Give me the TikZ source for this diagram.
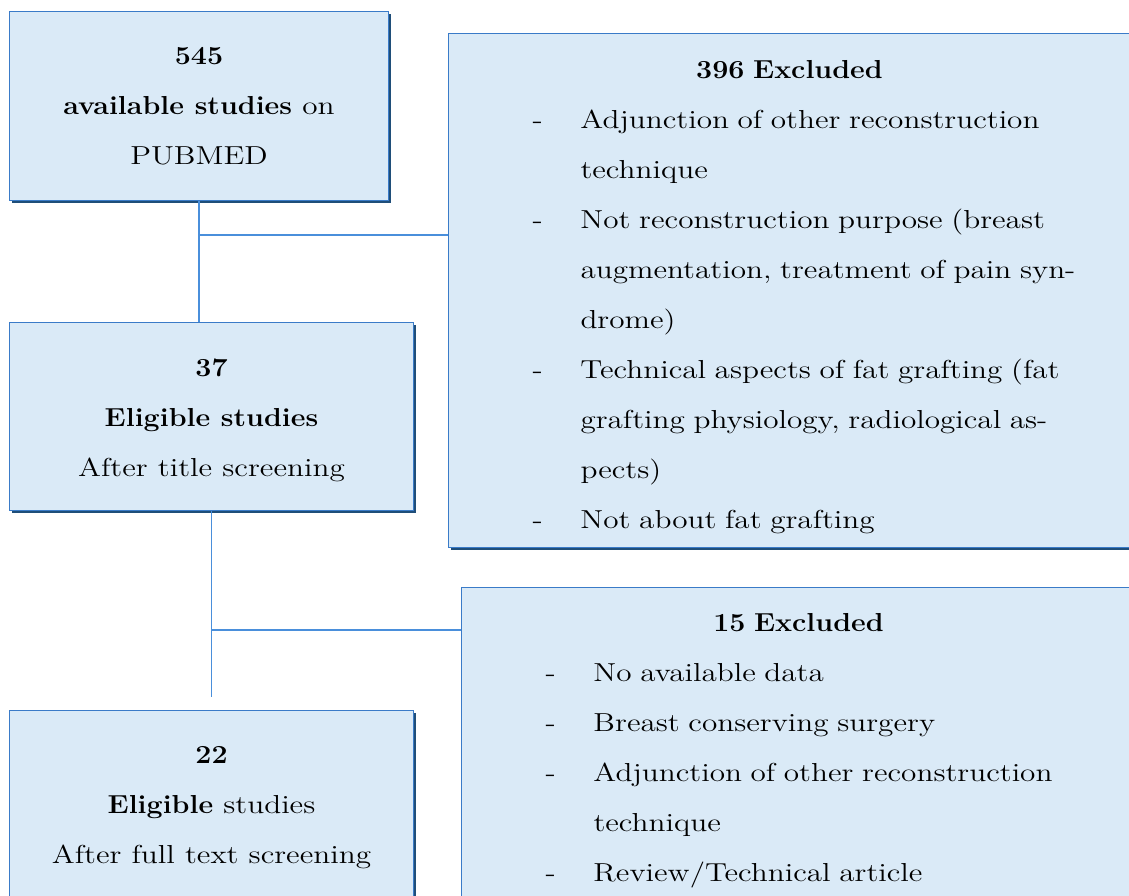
\documentclass[tikz,border=0pt]{standalone}
\usepackage{fontspec}
\setmainfont{Latin Modern Roman}[FakeStretch=1.2, BoldFeatures={FakeStretch=1.1}]
\usepackage{xcolor}
\usepackage{tikz}
\usetikzlibrary{positioning,shadows}

\definecolor{boxfill}{HTML}{DAEAF7}
\definecolor{boxline}{HTML}{3A7BC8}
\definecolor{boxdark}{HTML}{1F4E79}
\definecolor{linkblue}{HTML}{4A8FDB}

\newcommand{\exitem}[1]{\noindent\hspace*{42pt}\makebox[24pt][l]{-}#1\par}
\newcommand{\excont}[1]{\noindent\hspace*{66pt}#1\par}

\begin{document}
\begin{tikzpicture}[
  font=\fontsize{13}{25}\selectfont,
  box/.style={draw=boxline, line width=0.5pt, fill=boxfill, inner sep=0pt,
              align=center, anchor=north west,
              drop shadow={shadow xshift=1pt, shadow yshift=-1pt,
                           fill=boxdark, opacity=1}},
  excl/.style={box, align=left, text width=#1, minimum width=#1},
  link/.style={draw=linkblue, line width=0.6pt}]

\clip (0,0) rectangle (564.5pt,-447.5pt);

\node[box, minimum width=189.5pt, minimum height=94.5pt] (pubmed) at (4.5pt,-5.5pt)
  {\textbf{545}\\
   \textbf{available studies} on\\
   PUBMED};

\node[excl=341pt, minimum height=257pt] (excl1) at (224pt,-16.5pt)
  {{\centering\rule{0pt}{16pt}\textbf{396 Excluded}\par}
   \exitem{Adjunction of other reconstruction}
   \excont{technique}
   \exitem{Not reconstruction purpose (breast}
   \excont{augmentation, treatment of pain syn-}
   \excont{drome)}
   \exitem{Technical aspects of fat grafting (fat}
   \excont{grafting physiology, radiological as-}
   \excont{pects)}
   \exitem{Not about fat grafting}};

\node[box, minimum width=202pt, minimum height=94pt,
      below=60.5pt of pubmed.south west, anchor=north west] (screen)
  {\rule{0pt}{12.5pt}\textbf{37}\\
   \textbf{Eligible studies}\\
   After title screening};

\node[excl=337pt, minimum height=156pt,
      below=19.5pt of excl1.south west, anchor=north west, xshift=6.5pt] (excl2)
  {{\centering\rule{0pt}{16.5pt}\textbf{15 Excluded}\par}
   \exitem{No available data}
   \exitem{Breast conserving surgery}
   \exitem{Adjunction of other reconstruction}
   \excont{technique}
   \exitem{Review/Technical article}};

\node[box, minimum width=202pt, minimum height=97pt,
      below=99.5pt of screen.south west, anchor=north west] (full)
  {\textbf{22}\\
   \textbf{Eligible} studies\\
   After full text screening};

% connectors
\coordinate (fork1) at (pubmed.south |- 0,-117.5pt);
\coordinate (fork2) at (screen.south |- 0,-315pt);
\coordinate (stop) at (screen.south |- 0,-348.5pt);
\draw[link] (pubmed.south) -- (pubmed.south |- screen.north);
\draw[link] (fork1) -- (fork1 -| excl1.west);
\draw[link] (screen.south) -- (stop);
\draw[link] (fork2) -- (fork2 -| excl2.west);
\end{tikzpicture}
\end{document}
